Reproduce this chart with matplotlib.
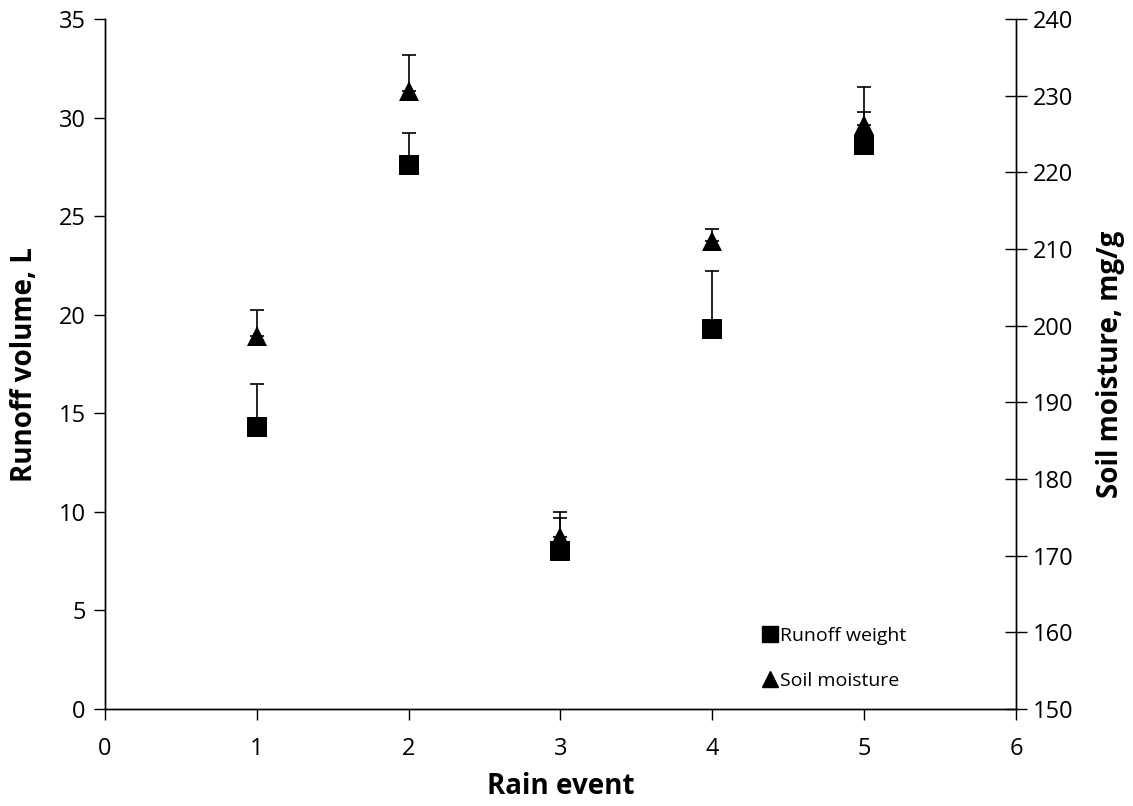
import matplotlib
matplotlib.use("Agg")
import matplotlib.pyplot as plt
from matplotlib.lines import Line2D

plt.rcParams['font.family'] = ['Open Sans', 'DejaVu Sans']

events = [1, 2, 3, 4, 5]
runoff = [14.3, 27.6, 8.0, 19.3, 28.6]
runoff_err = [2.2, 1.6, 2.0, 2.9, 1.7]
moisture = [198.6, 230.6, 172.5, 211.1, 226.2]
moisture_err = [3.4, 4.7, 2.4, 1.5, 4.9]

left_ticks = [0, 5, 10, 15, 20, 25, 30, 35]
right_ticks = [150, 160, 170, 180, 190, 200, 210, 220, 230, 240]
x_ticks = [0, 1, 2, 3, 4, 5, 6]

fig = plt.figure(figsize=(11.33, 8.06), dpi=100)
ax = fig.add_axes([0.0927, 0.1203, 0.804, 0.8561])
ax2 = ax.twinx()

ax.errorbar(events, runoff, yerr=[[0]*5, runoff_err], fmt='none',
            ecolor='black', elinewidth=1.2, capsize=5, capthick=1.2, zorder=2)
ax.plot(events, runoff, linestyle='none', marker='s', markersize=15,
        color='black', markeredgewidth=0, zorder=3)
ax2.errorbar(events, moisture, yerr=[[0]*5, moisture_err], fmt='none',
             ecolor='black', elinewidth=1.2, capsize=5, capthick=1.2, zorder=2)
ax2.plot(events, moisture, linestyle='none', marker='^', markersize=15,
         color='black', markeredgewidth=0, zorder=3)

ax.set_xlim(0, 6)
ax.set_ylim(0, 35)
ax2.set_ylim(150, 240)
ax.set_xticks(x_ticks)
ax.set_yticks(left_ticks)
ax2.set_yticks(right_ticks)

for a in (ax, ax2):
    a.spines['top'].set_visible(False)
    for s in a.spines.values():
        s.set_linewidth(1.0)
        s.set_color('black')
ax.tick_params(axis='x', direction='out', length=8, width=1, labelsize=17, pad=12)
ax.tick_params(axis='y', direction='out', length=8, width=1, labelsize=17, pad=6)
ax2.tick_params(axis='y', direction='inout', length=16, width=1, labelsize=17, pad=4)

ax.set_xlabel('Rain event', fontsize=20, fontweight='bold', labelpad=8)
ax.set_ylabel('Runoff volume, L', fontsize=20, fontweight='bold', labelpad=14)
ax2.set_ylabel('Soil moisture, mg/g', fontsize=20, fontweight='bold', labelpad=16)

handles = [Line2D([], [], linestyle='none', marker='s', markersize=11, color='black'),
           Line2D([], [], linestyle='none', marker='^', markersize=11, color='black')]
ax.legend(handles, ['Runoff weight', 'Soil moisture'], frameon=False,
          loc='lower left', bbox_to_anchor=(0.704, 0.002), fontsize=14,
          handlelength=0.6, handletextpad=0.25, labelspacing=1.4)

fig.savefig('out.png', dpi=100)
